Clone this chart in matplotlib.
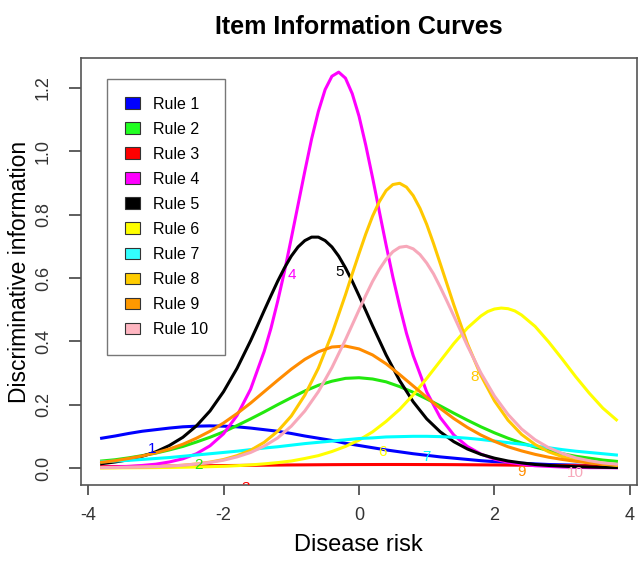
import matplotlib
matplotlib.use("Agg")
import matplotlib.pyplot as plt
from matplotlib.patches import Patch

# disease risk grid (theta) and information
theta = [-3.8, -3.6, -3.4, -3.2, -3.0, -2.8, -2.6, -2.4, -2.2, -2.0,
         -1.8, -1.6, -1.4, -1.2, -1.0, -0.8, -0.6, -0.4, -0.2, 0.0,
         0.2, 0.4, 0.6, 0.8, 1.0, 1.2, 1.4, 1.6, 1.8, 2.0,
         2.2, 2.4, 2.6, 2.8, 3.0, 3.2, 3.4, 3.6, 3.8]

rule1 = [0.094, 0.101, 0.109, 0.116, 0.121, 0.126, 0.130, 0.132, 0.133, 0.132,
         0.130, 0.126, 0.121, 0.116, 0.109, 0.101, 0.094, 0.087, 0.078, 0.071,
         0.064, 0.057, 0.051, 0.045, 0.040, 0.035, 0.031, 0.027, 0.023, 0.020,
         0.018, 0.015, 0.013, 0.011, 0.010, 0.009, 0.007, 0.006, 0.005]
rule2 = [0.022, 0.026, 0.032, 0.039, 0.047, 0.057, 0.068, 0.082, 0.097, 0.114,
         0.134, 0.155, 0.177, 0.200, 0.222, 0.243, 0.261, 0.274, 0.283, 0.285,
         0.281, 0.272, 0.257, 0.239, 0.218, 0.196, 0.173, 0.151, 0.130, 0.111,
         0.094, 0.079, 0.066, 0.055, 0.045, 0.037, 0.031, 0.025, 0.021]
rule3 = [0.0041, 0.0044, 0.0048, 0.0052, 0.0056, 0.0059, 0.0064, 0.0068, 0.0072, 0.0076,
         0.0080, 0.0084, 0.0088, 0.0092, 0.0096, 0.0099, 0.0102, 0.0105, 0.0107, 0.0108,
         0.0109, 0.0110, 0.0110, 0.0109, 0.0108, 0.0107, 0.0105, 0.0102, 0.0099, 0.0096,
         0.0092, 0.0088, 0.0084, 0.0080, 0.0076, 0.0072, 0.0068, 0.0064, 0.0059]
rule4 = [0.002, 0.003, 0.005, 0.008, 0.012, 0.019, 0.029, 0.045, 0.070, 0.108,
         0.166, 0.249, 0.368, 0.527, 0.725, 0.937, 1.126, 1.237, 1.231, 1.111,
         0.917, 0.704, 0.511, 0.355, 0.240, 0.159, 0.104, 0.068, 0.044, 0.028,
         0.018, 0.012, 0.007, 0.005, 0.003, 0.002, 0.001, 0.001, 0.0005]
rule5 = [0.0135, 0.019, 0.026, 0.037, 0.051, 0.071, 0.097, 0.133, 0.180, 0.241,
         0.315, 0.402, 0.497, 0.590, 0.669, 0.718, 0.729, 0.698, 0.632, 0.544,
         0.449, 0.357, 0.276, 0.209, 0.155, 0.114, 0.083, 0.060, 0.043, 0.031,
         0.022, 0.016, 0.011, 0.008, 0.006, 0.004, 0.003, 0.002, 0.0015]
rule6 = [0.0004, 0.0005, 0.0007, 0.0010, 0.0013, 0.0017, 0.0023, 0.0031, 0.0041, 0.0054,
         0.0073, 0.0097, 0.013, 0.017, 0.022, 0.030, 0.039, 0.052, 0.068, 0.088,
         0.114, 0.147, 0.185, 0.231, 0.283, 0.338, 0.393, 0.442, 0.480, 0.502,
         0.503, 0.483, 0.447, 0.398, 0.344, 0.288, 0.236, 0.189, 0.152]
rule7 = [0.0195, 0.022, 0.024, 0.027, 0.030, 0.033, 0.037, 0.041, 0.045, 0.049,
         0.053, 0.058, 0.063, 0.067, 0.072, 0.077, 0.081, 0.085, 0.089, 0.093,
         0.095, 0.098, 0.099, 0.100, 0.100, 0.099, 0.097, 0.094, 0.090, 0.085,
         0.080, 0.075, 0.069, 0.064, 0.058, 0.053, 0.049, 0.045, 0.041]
rule8 = [0.0009, 0.0013, 0.0019, 0.0028, 0.0041, 0.0059, 0.0087, 0.0127, 0.0185, 0.0267,
         0.039, 0.056, 0.081, 0.116, 0.164, 0.230, 0.315, 0.423, 0.547, 0.677,
         0.795, 0.876, 0.899, 0.860, 0.769, 0.645, 0.515, 0.393, 0.292, 0.212,
         0.151, 0.106, 0.074, 0.051, 0.036, 0.024, 0.017, 0.012, 0.008]
rule9 = [0.018, 0.023, 0.030, 0.038, 0.048, 0.060, 0.075, 0.094, 0.116, 0.142,
         0.172, 0.205, 0.241, 0.277, 0.312, 0.343, 0.367, 0.382, 0.385, 0.376,
         0.357, 0.329, 0.295, 0.259, 0.223, 0.188, 0.156, 0.128, 0.104, 0.084,
         0.067, 0.054, 0.043, 0.034, 0.027, 0.021, 0.016, 0.013, 0.010]
rule10 = [0.0011, 0.0015, 0.0021, 0.0030, 0.0043, 0.0061, 0.0087, 0.0124, 0.0174, 0.0246,
          0.035, 0.049, 0.069, 0.095, 0.132, 0.180, 0.241, 0.317, 0.405, 0.499,
          0.589, 0.659, 0.697, 0.692, 0.647, 0.571, 0.480, 0.386, 0.300, 0.227,
          0.169, 0.123, 0.089, 0.064, 0.046, 0.032, 0.023, 0.016, 0.012]

# extra readings taken around the sharp peaks
peak4_x = [-1.3, -1.1, -0.9, -0.7, -0.5, -0.3, -0.1, 0.1, 0.3, 0.5, 0.7]
peak4_y = [0.441, 0.621, 0.831, 1.039, 1.195, 1.250, 1.182, 1.019, 0.810, 0.603, 0.426]
peak5_x = [-1.5, -1.3, -1.1, -0.9, -0.7, -0.5, -0.3, -0.1, 0.1]
peak5_y = [0.449, 0.544, 0.632, 0.698, 0.729, 0.718, 0.669, 0.590, 0.497]
peak6_x = [1.9, 2.1, 2.3]
peak6_y = [0.494, 0.505, 0.496]
peak8_x = [-0.1, 0.1, 0.3, 0.5, 0.7, 0.9, 1.1, 1.3]
peak8_y = [0.613, 0.739, 0.841, 0.895, 0.887, 0.820, 0.709, 0.580]
peak10_x = [-0.1, 0.1, 0.3, 0.5, 0.7, 0.9, 1.1, 1.3]
peak10_y = [0.452, 0.545, 0.627, 0.683, 0.700, 0.674, 0.613, 0.526]

labels = ["Rule 1", "Rule 2", "Rule 3", "Rule 4", "Rule 5",
          "Rule 6", "Rule 7", "Rule 8", "Rule 9", "Rule 10"]
colors = ["#0000FF", "#22E80E", "#FF0000", "#FF00FF", "#000000",
          "#FFFF00", "#00FFFF", "#FFC800", "#FF8C00", "#F7A8BA"]
legend_colors = ["#0000FF", "#22FF22", "#FF0000", "#FF00FF", "#000000",
                 "#FFFF00", "#33FFFF", "#FFCC00", "#FF9900", "#FFB6C1"]

# where the item numbers sit on the plot
num_x = [-3.05, -2.37, -1.68, -0.99, -0.29, 0.34, 1.0, 1.70, 2.40, 3.19]
num_y = [0.060, 0.008, -0.064, 0.608, 0.618, 0.052, 0.034, 0.288, -0.013, -0.016]

curves = [rule1, rule2, rule3, rule4, rule5, rule6, rule7, rule8, rule9, rule10]
extras = {3: (peak4_x, peak4_y), 4: (peak5_x, peak5_y), 5: (peak6_x, peak6_y),
          7: (peak8_x, peak8_y), 9: (peak10_x, peak10_y)}

plt.rcParams['font.family'] = ['Liberation Sans', 'DejaVu Sans']

fig = plt.figure(figsize=(6.4, 5.61), dpi=100)
ax = fig.add_axes([0.1266, 0.1355, 0.8687, 0.7611])

for i, (ys, c) in enumerate(zip(curves, colors)):
    pts = list(zip(theta, ys))
    if i in extras:
        pts += list(zip(*extras[i]))
    pts.sort()
    ax.plot([p[0] for p in pts], [p[1] for p in pts], color=c, lw=2.2)

for i, c in enumerate(colors):
    ax.text(num_x[i], num_y[i], str(i + 1), color=c, fontsize=11,
            ha='center', va='center', clip_on=True)

ax.set_xlim(-4.104, 4.104)
ax.set_ylim(-0.0537, 1.2946)
ax.set_xticks([-4, -2, 0, 2, 4])
ax.set_xticklabels(["-4", "-2", "0", "2", "4"])
ax.set_yticks([0.0, 0.2, 0.4, 0.6, 0.8, 1.0, 1.2])
ax.set_yticklabels(["0.0", "0.2", "0.4", "0.6", "0.8", "1.0", "1.2"],
                   rotation=90, va='center')
ax.tick_params(axis='x', length=7, width=1.1, pad=9, labelsize=13, colors='#333333')
ax.tick_params(axis='y', length=9, width=1.1, pad=12, labelsize=13, colors='#333333')
for s in ax.spines.values():
    s.set_color('#555555')
    s.set_linewidth(1.2)

handles = [Patch(facecolor=c, edgecolor='#333333', linewidth=0.8) for c in legend_colors]
leg = ax.legend(handles, labels, loc='upper left', bbox_to_anchor=(0.0468, 0.9508),
                borderaxespad=0, fancybox=False, frameon=True, fontsize=11.5,
                handlelength=0.95, handleheight=0.75, handletextpad=0.8,
                labelspacing=0.63, borderpad=1.1)
leg.get_frame().set_edgecolor('#555555')
leg.get_frame().set_linewidth(1.0)

fig.text(0.56, 0.952, "Item Information Curves", fontsize=18, fontweight='bold',
         ha='center', va='center')
fig.text(0.56, 0.028, "Disease risk", fontsize=17, ha='center', va='center')
fig.text(0.031, 0.516, "Discriminative information", fontsize=16.5, rotation=90,
         ha='center', va='center')

fig.savefig("out.png", dpi=100)
